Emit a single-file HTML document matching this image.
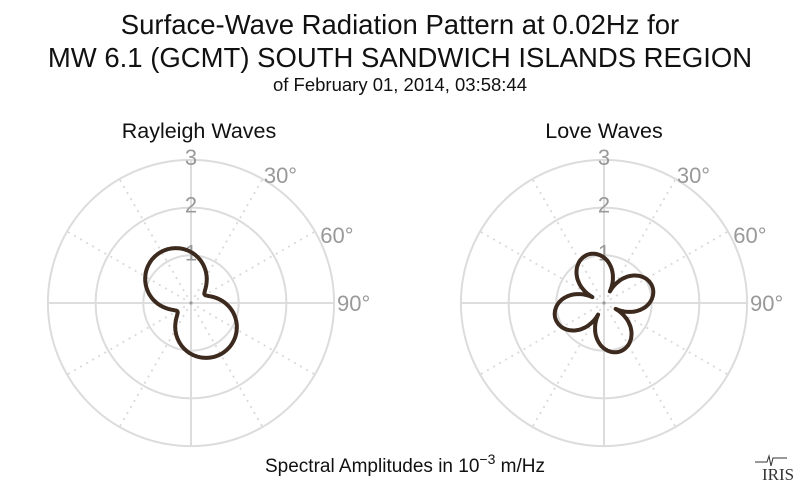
<!DOCTYPE html>
<html><head><style>
body{margin:0;background:#fff;width:800px;height:493px;overflow:hidden;font-family:"Liberation Sans",sans-serif}
</style></head><body>
<svg width="800" height="493" xmlns="http://www.w3.org/2000/svg" font-family="Liberation Sans, sans-serif">
<text x="400" y="34" font-size="27.5" text-anchor="middle" fill="#111">Surface-Wave Radiation Pattern at 0.02Hz for</text>
<text x="400" y="67" font-size="27.5" text-anchor="middle" fill="#111">MW 6.1 (GCMT) SOUTH SANDWICH ISLANDS REGION</text>
<text x="400" y="91" font-size="18.5" text-anchor="middle" fill="#111">of February 01, 2014, 03:58:44</text>
<text x="199" y="138" font-size="21.5" text-anchor="middle" fill="#111">Rayleigh Waves</text>
<text x="604" y="138" font-size="21.5" text-anchor="middle" fill="#111">Love Waves</text>
<text x="405" y="472" font-size="19" text-anchor="middle" fill="#111">Spectral Amplitudes in 10<tspan dy="-8" font-size="14">−3</tspan><tspan dy="8"> m/Hz</tspan></text>
<text x="762" y="480" font-size="17" font-family="Liberation Serif, serif" fill="#333">IRIS</text>
<path d="M755 462 h12 l2 -6 l2 10 l2 -8 h14" stroke="#333" fill="none" stroke-width="1"/>
<g id="g"></g>
</svg>
<script>
const NS="http://www.w3.org/2000/svg",g=document.getElementById('g');
function el(t,a,txt){const e=document.createElementNS(NS,t);for(const k in a)e.setAttribute(k,a[k]);if(txt)e.textContent=txt;g.appendChild(e);return e;}
const U=47.7,rad=Math.PI/180;
function polar(cx,cy,f){
 for(let a=0;a<360;a+=30){const s=a%90==0;const x=cx+3*U*Math.sin(a*rad),y=cy-3*U*Math.cos(a*rad);
  el('line',{x1:cx,y1:cy,x2:x,y2:y,stroke:'#d8d8d8','stroke-width':1.8,'stroke-dasharray':s?'':'2,5'});}
 for(let i=1;i<=3;i++)el('circle',{cx:cx,cy:cy,r:i*U,fill:'none',stroke:'#dcdcdc','stroke-width':2});
 el('circle',{cx:cx,cy:cy,r:1.5,fill:'#999'});
 for(let i=1;i<=3;i++)el('text',{x:cx,y:cy-i*U+5,'font-size':22,'text-anchor':'middle',fill:'#999'},String(i));
 [[30,156],[60,161]].forEach(([a,r])=>el('text',{x:cx+r*Math.sin((a+5)*rad),y:cy-r*Math.cos((a+5)*rad)+8,'font-size':22,'text-anchor':'middle',fill:'#999'},a+'°'));
 el('text',{x:cx+146,y:cy+8,'font-size':22,fill:'#999'},'90°');
 let d='';for(let t=0;t<=360;t+=1){const r=f(t*rad);const x=cx+r*Math.sin(t*rad),y=cy-r*Math.cos(t*rad);d+=(t?'L':'M')+x.toFixed(1)+' '+y.toFixed(1);}
 el('path',{d:d+'Z',fill:'none',stroke:'#3d2a1e','stroke-width':4,'stroke-linejoin':'round'});
}
polar(191,303,p=>Math.sqrt(Math.pow(57*Math.cos(p+32*rad),2)+16*16));
polar(604,303,p=>13+38*Math.pow(Math.abs(Math.cos(2*(p+18*rad))),0.75));
</script>
</body></html>
